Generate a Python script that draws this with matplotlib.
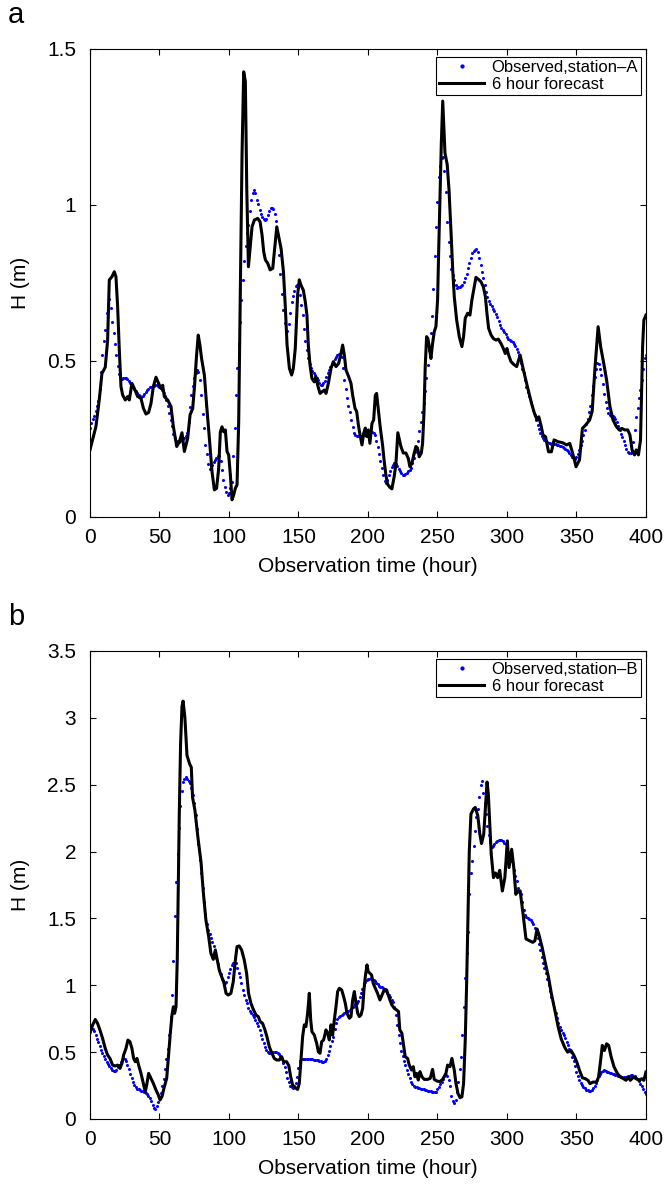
import numpy as np
import matplotlib
matplotlib.use('Agg')
import matplotlib.pyplot as plt

plt.rcParams['font.family'] = ['Liberation Sans', 'DejaVu Sans']

hours = np.arange(0, 401)

# station A, hourly observed water level (m), hour 0..400
obs_a = [
    0.285, 0.30, 0.315, 0.325, 0.34, 0.355, 0.372, 0.41, 0.465, 0.52,
    0.565, 0.60, 0.653, 0.678, 0.70, 0.67, 0.625, 0.59, 0.556, 0.52,
    0.485, 0.458, 0.442, 0.442, 0.445, 0.446, 0.445, 0.443, 0.437, 0.43,
    0.424, 0.417, 0.41, 0.403, 0.396, 0.391, 0.388, 0.386, 0.388, 0.395,
    0.401, 0.406, 0.411, 0.416, 0.418, 0.42, 0.421, 0.422, 0.422, 0.42,
    0.418, 0.413, 0.406, 0.398, 0.388, 0.374, 0.357, 0.333, 0.31, 0.29,
    0.265, 0.252, 0.245, 0.242, 0.24, 0.243, 0.247, 0.25, 0.253, 0.26,
    0.27, 0.305, 0.353, 0.392, 0.42, 0.445, 0.463, 0.471, 0.466, 0.438,
    0.39, 0.33, 0.285, 0.231, 0.203, 0.17, 0.155, 0.158, 0.168, 0.177,
    0.184, 0.19, 0.197, 0.195, 0.18, 0.151, 0.119, 0.096, 0.08, 0.072,
    0.077, 0.092, 0.112, 0.195, 0.285, 0.391, 0.476, 0.556, 0.626, 0.695,
    0.76, 0.82, 0.87, 0.91, 0.936, 0.982, 1.017, 1.04, 1.048, 1.037,
    1.017, 1.002, 0.985, 0.97, 0.96, 0.956, 0.952, 0.955, 0.967, 0.98,
    0.989, 0.991, 0.987, 0.971, 0.95, 0.905, 0.84, 0.778, 0.716, 0.665,
    0.623, 0.596, 0.596, 0.62, 0.655, 0.69, 0.708, 0.725, 0.74, 0.745,
    0.738, 0.71, 0.68, 0.647, 0.603, 0.565, 0.535, 0.51, 0.49, 0.479,
    0.467, 0.46, 0.454, 0.447, 0.438, 0.428, 0.424, 0.423, 0.429, 0.437,
    0.449, 0.46, 0.47, 0.48, 0.489, 0.497, 0.505, 0.512, 0.518, 0.521,
    0.522, 0.512, 0.478, 0.44, 0.41, 0.38, 0.357, 0.335, 0.31, 0.288,
    0.27, 0.262, 0.259, 0.258, 0.258, 0.258, 0.26, 0.262, 0.264, 0.266,
    0.269, 0.271, 0.273, 0.272, 0.27, 0.263, 0.245, 0.225, 0.203, 0.181,
    0.158, 0.133, 0.114, 0.108, 0.118, 0.133, 0.148, 0.16, 0.167, 0.172,
    0.17, 0.163, 0.155, 0.148, 0.14, 0.136, 0.135, 0.137, 0.141, 0.146,
    0.152, 0.157, 0.172, 0.19, 0.207, 0.22, 0.245, 0.275, 0.305, 0.335,
    0.365, 0.403, 0.445, 0.487, 0.535, 0.59, 0.645, 0.73, 0.835, 0.93,
    1.01, 1.09, 1.125, 1.15, 1.155, 1.11, 1.042, 0.945, 0.88, 0.835,
    0.795, 0.775, 0.758, 0.742, 0.735, 0.736, 0.738, 0.741, 0.745, 0.753,
    0.767, 0.78, 0.797, 0.815, 0.83, 0.845, 0.852, 0.857, 0.858, 0.85,
    0.83, 0.808, 0.785, 0.765, 0.743, 0.72, 0.705, 0.692, 0.682, 0.675,
    0.668, 0.66, 0.65, 0.64, 0.628, 0.615, 0.605, 0.598, 0.594, 0.585,
    0.577, 0.572, 0.568, 0.564, 0.56, 0.555, 0.548, 0.54, 0.53, 0.518,
    0.495, 0.475, 0.46, 0.44, 0.418, 0.402, 0.388, 0.37, 0.355, 0.342,
    0.328, 0.31, 0.295, 0.282, 0.27, 0.26, 0.252, 0.246, 0.242, 0.239,
    0.237, 0.236, 0.235, 0.235, 0.234, 0.233, 0.232, 0.231, 0.229, 0.227,
    0.225, 0.222, 0.219, 0.216, 0.211, 0.205, 0.199, 0.192, 0.186, 0.186,
    0.192, 0.203, 0.215, 0.23, 0.245, 0.262, 0.28, 0.297, 0.315, 0.335,
    0.355, 0.39, 0.42, 0.45, 0.475, 0.493, 0.49, 0.475, 0.455, 0.425,
    0.395, 0.37, 0.348, 0.332, 0.326, 0.325, 0.323, 0.32, 0.314, 0.305,
    0.293, 0.28, 0.267, 0.256, 0.245, 0.23, 0.217, 0.209, 0.206, 0.206,
    0.21, 0.24, 0.28, 0.322, 0.35, 0.38, 0.407, 0.44, 0.475, 0.51,
    0.52,
]

# station A, 6 hour forecast as (hour, level)
fc_a = [
    (0, 0.215), (4.3, 0.29), (6.7, 0.376), (8.6, 0.46), (11, 0.48),
    (12.7, 0.567), (13.9, 0.76), (15.8, 0.77), (17.5, 0.786), (18.7, 0.77),
    (19.9, 0.674), (21.1, 0.536), (22.3, 0.418), (23.5, 0.391), (25.4, 0.375),
    (27.1, 0.386), (28.3, 0.375), (30.2, 0.428), (31.9, 0.412), (34.3, 0.386),
    (36.7, 0.38), (38.4, 0.349), (40.3, 0.33), (42.2, 0.335), (43.9, 0.364),
    (45.6, 0.418), (47.5, 0.448), (49.4, 0.428), (51.1, 0.412), (52.3, 0.422),
    (53.5, 0.386), (55.9, 0.375), (58.3, 0.354), (60, 0.29), (62.4, 0.226),
    (64.3, 0.241), (66.2, 0.27), (67.9, 0.21), (70.3, 0.252), (72, 0.327),
    (73.9, 0.348), (75.1, 0.412), (76.7, 0.519), (77.9, 0.583), (79.1, 0.551),
    (80.3, 0.508), (82.3, 0.455), (83.9, 0.36), (85.9, 0.252), (87.8, 0.145),
    (89.5, 0.087), (91.1, 0.092), (92.6, 0.156), (93.8, 0.273), (95, 0.289),
    (96.2, 0.273), (97.4, 0.279), (98.6, 0.21), (99.8, 0.199), (101, 0.135),
    (102.2, 0.055), (103.4, 0.071), (104.6, 0.092), (105.8, 0.103), (107, 0.305),
    (108.2, 0.733), (109.4, 1.16), (110.6, 1.427), (111.8, 1.395), (112.8, 1.053),
    (114, 0.802), (115.2, 0.86), (116.6, 0.93), (118.3, 0.952), (120.7, 0.957),
    (122.4, 0.946), (123.8, 0.904), (125, 0.85), (126.2, 0.824), (127.9, 0.813),
    (129.6, 0.792), (131.5, 0.797), (132.9, 0.86), (134.4, 0.93), (135.8, 0.898),
    (137.5, 0.86), (139.2, 0.786), (140.6, 0.668), (141.8, 0.551), (143.5, 0.476),
    (145.1, 0.455), (146.3, 0.476), (147.7, 0.54), (149.4, 0.712), (150.6, 0.76),
    (151.8, 0.743), (153.5, 0.727), (154.9, 0.69), (156.1, 0.647), (157.1, 0.551),
    (158.3, 0.487), (159.7, 0.444), (161.4, 0.433), (162.6, 0.45), (163.8, 0.423),
    (165.5, 0.396), (166.9, 0.401), (168.6, 0.407), (169.8, 0.396), (171.5, 0.428),
    (173.4, 0.476), (175.1, 0.498), (177, 0.482), (178.9, 0.492), (180.6, 0.524),
    (181.8, 0.551), (183, 0.519), (184.2, 0.471), (186.1, 0.45), (187.8, 0.428),
    (189, 0.39), (190.7, 0.348), (191.9, 0.338), (193.1, 0.295), (194.3, 0.263),
    (195.7, 0.231), (196.9, 0.268), (198.1, 0.285), (199.1, 0.258), (200.2, 0.279),
    (201.4, 0.236), (202.9, 0.3), (204.1, 0.311), (205.3, 0.39), (206.2, 0.396),
    (207.4, 0.348), (208.9, 0.285), (210.5, 0.231), (211.7, 0.178), (212.9, 0.135),
    (214.1, 0.105), (215.8, 0.095), (217.2, 0.09), (218.9, 0.13), (220.1, 0.17),
    (221.5, 0.27), (222.5, 0.25), (223.7, 0.226), (225.4, 0.205), (227.3, 0.205),
    (229, 0.188), (230.2, 0.161), (231.6, 0.172), (233.3, 0.205), (234.5, 0.226),
    (235.7, 0.22), (236.9, 0.193), (238.4, 0.205), (239.3, 0.236), (240.3, 0.332),
    (241.2, 0.482), (242.2, 0.578), (243.1, 0.572), (244.1, 0.546), (245.3, 0.508),
    (246.5, 0.556), (247.7, 0.594), (248.9, 0.61), (250.1, 0.696), (250.9, 0.856),
    (251.8, 1.016), (252.8, 1.2), (253.8, 1.333), (254.6, 1.25), (255.4, 1.167),
    (257, 1.13), (258.3, 1.05), (259.8, 0.91), (261, 0.79), (262.1, 0.706),
    (263.8, 0.632), (265.7, 0.578), (267.6, 0.546), (268.8, 0.578), (270, 0.637),
    (271.7, 0.653), (273.4, 0.647), (274.8, 0.696), (276.5, 0.738), (277.7, 0.768),
    (279.4, 0.762), (281.3, 0.754), (283, 0.738), (284.5, 0.706), (285.6, 0.653),
    (286.8, 0.605), (288.5, 0.584), (290.2, 0.572), (292.1, 0.567), (293.8, 0.57),
    (295.7, 0.556), (297.4, 0.54), (298.8, 0.524), (300, 0.54), (301.2, 0.519),
    (302.9, 0.498), (304.6, 0.49), (307, 0.482), (309.5, 0.519), (311.6, 0.476),
    (314.7, 0.418), (317.7, 0.364), (319.8, 0.332), (321.7, 0.311), (322.9, 0.321),
    (324.7, 0.29), (325.9, 0.263), (327.8, 0.257), (329.9, 0.209), (332, 0.209),
    (333.9, 0.247), (336.9, 0.241), (340, 0.238), (343, 0.231), (345.2, 0.236),
    (347.3, 0.204), (349.7, 0.161), (352.2, 0.183), (354.3, 0.284), (356.7, 0.295),
    (359.5, 0.311), (361.3, 0.338), (363.4, 0.482), (365.6, 0.61), (367.4, 0.546),
    (369.6, 0.493), (371.7, 0.439), (374.1, 0.354), (376.3, 0.311), (378.7, 0.29),
    (380.8, 0.279), (382.6, 0.284), (384.8, 0.279), (386.9, 0.279), (388.5, 0.263),
    (390, 0.215), (391.8, 0.199), (393, 0.215), (394.6, 0.199), (396.1, 0.247),
    (397.6, 0.546), (398.5, 0.631), (400, 0.647),
]

# station B, hourly observed water level (m), hour 0..400
obs_b = [
    0.70, 0.685, 0.67, 0.66, 0.63, 0.598, 0.572, 0.545, 0.518, 0.492,
    0.472, 0.452, 0.428, 0.41, 0.394, 0.381, 0.369, 0.362, 0.362, 0.368,
    0.385, 0.407, 0.424, 0.44, 0.453, 0.45, 0.432, 0.405, 0.375, 0.34,
    0.304, 0.277, 0.252, 0.236, 0.226, 0.221, 0.216, 0.211, 0.206, 0.201,
    0.195, 0.187, 0.173, 0.154, 0.131, 0.106, 0.083, 0.072, 0.097, 0.128,
    0.162, 0.196, 0.25, 0.302, 0.37, 0.45, 0.525, 0.63, 0.76, 0.93,
    1.18, 1.52, 1.77, 1.98, 2.174, 2.337, 2.455, 2.52, 2.545, 2.555,
    2.545, 2.53, 2.51, 2.475, 2.42, 2.36, 2.27, 2.17, 2.06, 1.94,
    1.84, 1.73, 1.62, 1.53, 1.46, 1.415, 1.38, 1.35, 1.32, 1.29,
    1.245, 1.205, 1.16, 1.115, 1.085, 1.05, 1.03, 1.02, 1.027, 1.06,
    1.095, 1.125, 1.15, 1.165, 1.17, 1.164, 1.13, 1.095, 1.06, 1.017,
    0.965, 0.925, 0.89, 0.865, 0.83, 0.805, 0.793, 0.777, 0.76, 0.742,
    0.718, 0.692, 0.662, 0.625, 0.598, 0.57, 0.54, 0.515, 0.502, 0.495,
    0.492, 0.493, 0.50, 0.503, 0.503, 0.496, 0.488, 0.473, 0.448, 0.42,
    0.385, 0.35, 0.31, 0.275, 0.25, 0.238, 0.234, 0.244, 0.27, 0.315,
    0.38, 0.43, 0.445, 0.45, 0.45, 0.45, 0.45, 0.448, 0.447, 0.446,
    0.445, 0.444, 0.443, 0.441, 0.44, 0.437, 0.432, 0.425, 0.428, 0.433,
    0.45, 0.475, 0.51, 0.545, 0.58, 0.61, 0.67, 0.72, 0.745, 0.76,
    0.768, 0.775, 0.783, 0.79, 0.797, 0.804, 0.81, 0.818, 0.826, 0.835,
    0.845, 0.857, 0.868, 0.88, 0.91, 0.94, 0.97, 1.0, 1.025, 1.037,
    1.046, 1.05, 1.052, 1.05, 1.042, 1.033, 1.02, 1.008, 0.997, 0.99,
    0.985, 0.98, 0.972, 0.96, 0.945, 0.93, 0.91, 0.89, 0.873, 0.84,
    0.78, 0.70, 0.63, 0.57, 0.51, 0.47, 0.435, 0.40, 0.365, 0.335,
    0.305, 0.275, 0.258, 0.247, 0.24, 0.236, 0.232, 0.229, 0.227, 0.224,
    0.221, 0.218, 0.215, 0.212, 0.21, 0.207, 0.204, 0.202, 0.20, 0.205,
    0.221, 0.24, 0.26, 0.278, 0.298, 0.318, 0.33, 0.322, 0.29, 0.245,
    0.175, 0.135, 0.117, 0.142, 0.20, 0.28, 0.37, 0.46, 0.63, 0.84,
    1.052, 1.239, 1.40, 1.68, 1.84, 1.93, 2.04, 2.15, 2.26, 2.32,
    2.41, 2.50, 2.53, 2.44, 2.36, 2.28, 2.19, 2.12, 2.07, 2.035,
    2.04, 2.055, 2.068, 2.078, 2.083, 2.085, 2.083, 2.076, 2.066, 2.053,
    2.03, 1.995, 1.96, 1.93, 1.905, 1.86, 1.82, 1.78, 1.73, 1.70,
    1.68, 1.62, 1.56, 1.525, 1.51, 1.50, 1.495, 1.485, 1.475, 1.455,
    1.425, 1.395, 1.35, 1.305, 1.26, 1.215, 1.17, 1.13, 1.09, 1.05,
    1.005, 0.96, 0.91, 0.87, 0.83, 0.79, 0.755, 0.72, 0.69, 0.662,
    0.645, 0.63, 0.605, 0.578, 0.55, 0.525, 0.50, 0.465, 0.43, 0.395,
    0.355, 0.32, 0.29, 0.27, 0.252, 0.24, 0.228, 0.22, 0.214, 0.21,
    0.209, 0.215, 0.228, 0.248, 0.27, 0.295, 0.318, 0.338, 0.355, 0.36,
    0.363, 0.362, 0.355, 0.35, 0.346, 0.343, 0.34, 0.336, 0.332, 0.328,
    0.325, 0.32, 0.316, 0.313, 0.312, 0.312, 0.313, 0.318, 0.323, 0.326,
    0.326, 0.323, 0.32, 0.31, 0.298, 0.285, 0.265, 0.245, 0.225, 0.205,
    0.19,
]

# station B, 6 hour forecast as (hour, level)
fc_b = [
    (0, 0.641), (1.9, 0.702), (3.8, 0.744), (5.5, 0.714), (7.2, 0.664),
    (9.1, 0.602), (11, 0.527), (12.7, 0.478), (14.4, 0.453), (16.3, 0.403),
    (18.2, 0.396), (19.9, 0.403), (21.6, 0.378), (23, 0.416), (24.2, 0.478),
    (25.9, 0.527), (27.3, 0.59), (28.8, 0.577), (30.2, 0.527), (31.4, 0.453),
    (32.6, 0.428), (33.8, 0.453), (35, 0.403), (36.7, 0.341), (38.4, 0.266),
    (39.8, 0.204), (41, 0.266), (42.2, 0.341), (43.9, 0.304), (45.6, 0.266),
    (47.5, 0.216), (49.2, 0.179), (50.4, 0.142), (51.8, 0.167), (53.5, 0.241),
    (55.2, 0.304), (56.6, 0.49), (57.8, 0.64), (59, 0.777), (60, 0.839),
    (60.9, 0.79), (61.9, 0.839), (62.8, 1.19), (63.5, 1.69), (64.3, 2.31),
    (65.2, 2.81), (66.2, 3.085), (67, 3.125), (68.3, 3.0), (69.8, 2.72),
    (71.7, 2.655), (72.9, 2.63), (73.8, 2.405), (75.5, 2.31), (77.5, 2.12),
    (79.9, 1.92), (81.5, 1.7), (83.4, 1.489), (85.4, 1.364), (87, 1.239),
    (88.7, 1.194), (90.2, 1.264), (91.6, 1.189), (93, 1.114), (94.7, 1.064),
    (96.2, 1.027), (97.9, 0.94), (99.5, 0.927), (101.4, 0.94), (103.1, 1.027),
    (104.6, 1.189), (105.8, 1.289), (107.4, 1.294), (109.1, 1.264), (111, 1.189),
    (112.7, 1.089), (114.1, 0.94), (115.8, 0.865), (117.5, 0.82), (119.4, 0.778),
    (121.1, 0.765), (122.5, 0.728), (124.2, 0.715), (125.9, 0.666), (127.3, 0.616),
    (129, 0.541), (130.7, 0.496), (132.6, 0.453), (134.3, 0.441), (136.2, 0.441),
    (137.9, 0.466), (139.3, 0.428), (141.5, 0.428), (143, 0.40), (144.4, 0.316),
    (145.8, 0.254), (147.7, 0.234), (149.4, 0.221), (150.6, 0.266), (151.8, 0.441),
    (153, 0.616), (154.2, 0.704), (155.4, 0.691), (156.6, 0.791), (157.8, 0.94),
    (158.8, 0.741), (159.7, 0.653), (161.4, 0.628), (163.1, 0.566), (164.3, 0.503),
    (165.5, 0.491), (166.7, 0.578), (168.1, 0.591), (169.8, 0.666), (171, 0.641),
    (172.2, 0.591), (173.4, 0.704), (174.6, 0.628), (175.8, 0.741), (177, 0.84),
    (178.2, 0.953), (179.4, 0.977), (181.1, 0.965), (182.5, 0.915), (183.7, 0.865),
    (184.9, 0.791), (186.6, 0.753), (187.8, 0.766), (189, 0.89), (190.2, 0.953),
    (191.4, 0.865), (192.6, 0.791), (193.8, 0.766), (195, 0.778), (196.2, 0.828),
    (197.1, 0.965), (198.1, 1.065), (199.3, 1.152), (200.2, 1.102), (201.4, 1.09),
    (202.6, 1.077), (203.8, 1.014), (205.3, 0.977), (206.9, 0.94), (208.6, 0.89),
    (210.1, 0.927), (211.7, 0.965), (213.4, 0.965), (214.6, 0.927), (215.8, 0.89),
    (217.2, 0.853), (218.9, 0.828), (220.6, 0.815), (222, 0.803), (222.9, 0.666),
    (224.4, 0.641), (225.4, 0.566), (226.8, 0.466), (228.5, 0.453), (229.7, 0.403),
    (231.4, 0.366), (232.6, 0.391), (233.8, 0.316), (235, 0.341), (236.2, 0.291),
    (237.4, 0.354), (238.8, 0.316), (240.5, 0.296), (242.9, 0.296), (244.8, 0.304),
    (246.5, 0.371), (247.7, 0.296), (249.6, 0.284), (251.8, 0.279), (253.7, 0.296),
    (256.1, 0.341), (257.3, 0.403), (259, 0.391), (260.4, 0.453), (262.1, 0.366),
    (263.3, 0.266), (264.8, 0.191), (266.2, 0.159), (267.6, 0.166), (268.8, 0.266),
    (270, 0.591), (271, 1.015), (272, 1.514), (272.9, 2.0), (274.1, 2.28),
    (275.9, 2.318), (277.2, 2.33), (279, 2.27), (280.5, 2.13), (281.7, 2.06),
    (283.3, 2.13), (284.5, 2.33), (285.7, 2.52), (286.6, 2.43), (287.5, 2.23),
    (288.7, 1.98), (290.3, 1.805), (291.8, 1.84), (293.3, 1.805), (294.8, 1.86),
    (296.7, 1.705), (298.5, 1.805), (300.3, 2.08), (301.5, 1.88), (303.4, 2.017),
    (304.9, 1.88), (306.4, 1.68), (307.6, 1.705), (309.5, 1.706), (311.6, 1.532),
    (313.7, 1.346), (316.2, 1.333), (318.6, 1.321), (320.1, 1.333), (321.7, 1.42),
    (322.9, 1.383), (325.3, 1.284), (327.8, 1.159), (329.9, 1.06), (332, 0.935),
    (334.5, 0.811), (336.9, 0.687), (339, 0.60), (341.5, 0.537), (343.6, 0.50),
    (346.1, 0.512), (348.2, 0.475), (350.3, 0.425), (352.2, 0.363), (354.3, 0.308),
    (356.4, 0.301), (358.3, 0.289), (359.8, 0.264), (361.9, 0.276), (364.4, 0.276),
    (365.9, 0.313), (367.4, 0.438), (368.6, 0.55), (370.1, 0.512), (371.7, 0.562),
    (373.2, 0.55), (375, 0.463), (377.1, 0.388), (379.6, 0.338), (381.7, 0.313),
    (383.9, 0.301), (385.7, 0.289), (387.2, 0.313), (388.8, 0.289), (390.9, 0.313),
    (393, 0.301), (394.9, 0.289), (397, 0.301), (398.5, 0.289), (400, 0.351),
]

x_ticks = [0, 50, 100, 150, 200, 250, 300, 350, 400]


def draw_panel(ax, obs, fc, station, ymax, letter, letter_y):
    t, h = zip(*fc)
    ax.plot(hours, obs, 'o', color='#0000ff', markersize=2.2, markeredgewidth=0,
            label='Observed,station\u2013' + station)
    ax.plot(t, h, '-', color='black', linewidth=2.2, label='6 hour forecast')

    ax.set_xlim(0, 400)
    ax.set_ylim(0, ymax)
    ax.set_xticks(x_ticks)
    yt = np.arange(0, ymax + 0.01, 0.5)
    ax.set_yticks(yt)
    ax.set_yticklabels(['%g' % v for v in yt])

    ax.tick_params(direction='in', top=True, right=True, length=4, width=0.8,
                   labelsize=15, pad=10)
    ax.tick_params(axis='x', pad=8)
    for s in ax.spines.values():
        s.set_linewidth(0.8)

    ax.set_xlabel('Observation time (hour)', fontsize=15, labelpad=7)
    ax.set_ylabel('H (m)', fontsize=15)
    ax.yaxis.set_label_coords(-0.108, 0.5)

    leg = ax.legend(loc='upper right', bbox_to_anchor=(0.992, 0.983), fontsize=12,
                    fancybox=False, edgecolor='black', framealpha=1, borderaxespad=0,
                    handlelength=2.7, handletextpad=0.45, borderpad=0.2,
                    labelspacing=0.1, numpoints=1, markerscale=1.4)
    leg.get_frame().set_linewidth(0.8)

    fig.text(8 / 664, letter_y, letter, fontsize=21, va='baseline', ha='left')


fig = plt.figure(figsize=(6.64, 11.89), dpi=100)
ax_a = fig.add_axes([0.1355, 0.5652, 0.8373, 0.3936])
ax_b = fig.add_axes([0.1355, 0.0589, 0.8373, 0.3936])

draw_panel(ax_a, obs_a, fc_a, 'A', 1.5, 'a', 1 - 23 / 1189)
draw_panel(ax_b, obs_b, fc_b, 'B', 3.5, 'b', 1 - 625 / 1189)

fig.savefig('out.png', dpi=100)
